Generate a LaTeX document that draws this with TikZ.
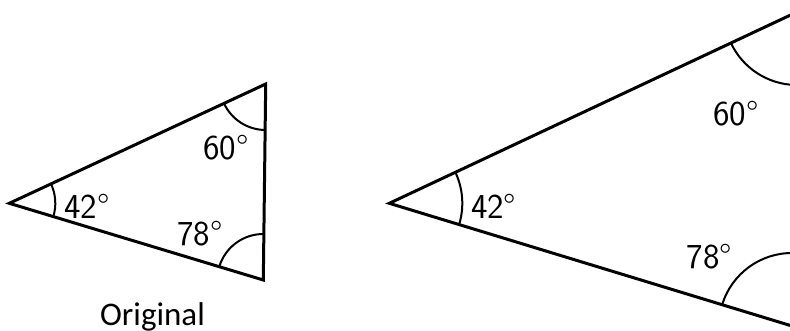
\documentclass[tikz,border=0pt]{standalone}
\usepackage{fontspec}
\newfontfamily\calib{Carlito}
\usetikzlibrary{angles}
\begin{document}
\begin{tikzpicture}[x=1pt,y=1pt,
  side/.style={line width=3pt,line join=miter},
  arcmark/.style={draw,line width=2pt},
  deg/.style={font=\sffamily\fontsize{35}{35}\selectfont,inner sep=0pt}]
\useasboundingbox (0,0) rectangle (790,330);
\clip (0,0) rectangle (790,330);
% left triangle
\coordinate (A) at (9.3,126.7);
\coordinate (B) at (265.7,246);
\coordinate (C) at (263.3,50);
\draw[side] (A) -- (B) -- (C) -- cycle;
\pic[arcmark,angle radius=46pt] {angle=C--A--B};
\pic[arcmark,angle radius=46pt] {angle=A--B--C};
\pic[arcmark,angle radius=46pt] {angle=B--C--A};
\node[deg] (a1) at (87,124) {42°};
\node[deg] (b1) at (226,182) {60°};
\node[deg] (c1) at (200,96) {78°};
\node[font=\calib\fontsize{33}{33}\selectfont,inner sep=0pt,anchor=base] (orig) at (152.5,5) {Original};
% right triangle
\coordinate (A2) at (389.3,126.7);
\coordinate (B2) at (797,318);
\coordinate (C2) at (792,4);
\draw[side] (A2) -- (B2) -- (C2) -- cycle;
\pic[arcmark,angle radius=73pt] {angle=C2--A2--B2};
\pic[arcmark,angle radius=73pt] {angle=A2--B2--C2};
\pic[arcmark,angle radius=73pt] {angle=B2--C2--A2};
\node[deg] (a2) at (493.7,124) {42°};
\node[deg] (b2) at (736,216.5) {60°};
\node[deg] (c2) at (709.5,73.3) {78°};
\end{tikzpicture}
\end{document}
